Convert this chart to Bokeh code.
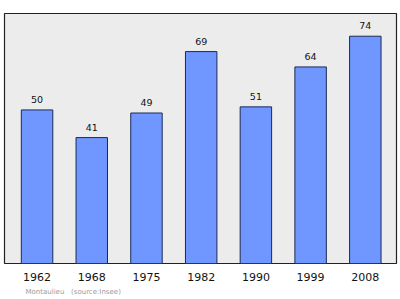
from bokeh.plotting import figure
from bokeh.models import ColumnDataSource, Range1d, FixedTicker, Title
from bokeh.core.properties import value
from bokeh.embed import file_html
from bokeh.resources import INLINE

years = ["1962", "1968", "1975", "1982", "1990", "1999", "2008"]
population = [50, 41, 49, 69, 51, 64, 74]
commune = "Montaulieu"
source_note = "(source:Insee)"

xs = list(range(len(years)))
src = ColumnDataSource(dict(x=xs, top=population, label=[str(v) for v in population]))

p = figure(width=400, height=299, output_backend="svg", toolbar_location=None,
           x_range=Range1d(-0.595, 6.57), y_range=Range1d(0, 81.4),
           min_border_left=4, min_border_right=4, min_border_top=13, min_border_bottom=36)
p.border_fill_color = "white"
p.background_fill_color = "#ececec"
p.outline_line_color = "#222222"
p.outline_line_width = 1.2
p.grid.visible = False
p.yaxis.visible = False

p.vbar(x="x", top="top", width=0.575, bottom=0, source=src,
       fill_color="#7097ff", line_color="#1a2a55", line_width=1)

p.text(x="x", y="top", text="label", source=src, y_offset=-7,
       text_align="center", text_baseline="bottom",
       text_font=value("DejaVu Sans"), text_font_size="9.5px", text_color="#111111")

ax = p.xaxis[0]
ax.ticker = FixedTicker(ticks=xs)
ax.major_label_overrides = {i: y for i, y in enumerate(years)}
ax.axis_line_color = None
ax.major_tick_line_color = None
ax.minor_tick_line_color = None
ax.major_label_standoff = 3
ax.major_label_text_font = "DejaVu Sans"
ax.major_label_text_font_size = "11px"
ax.major_label_text_color = "#111111"

# commune name and data source, small grey note under the axis
note = Title(text=commune + "\u00a0\u00a0\u00a0" + source_note,
             align="left", offset=21, text_font="DejaVu Sans",
             text_font_size="7px", text_font_style="normal",
             text_color="#9a9a9a", standoff=4)
p.add_layout(note, "below")

open("out.html", "w").write(file_html(p, INLINE))
